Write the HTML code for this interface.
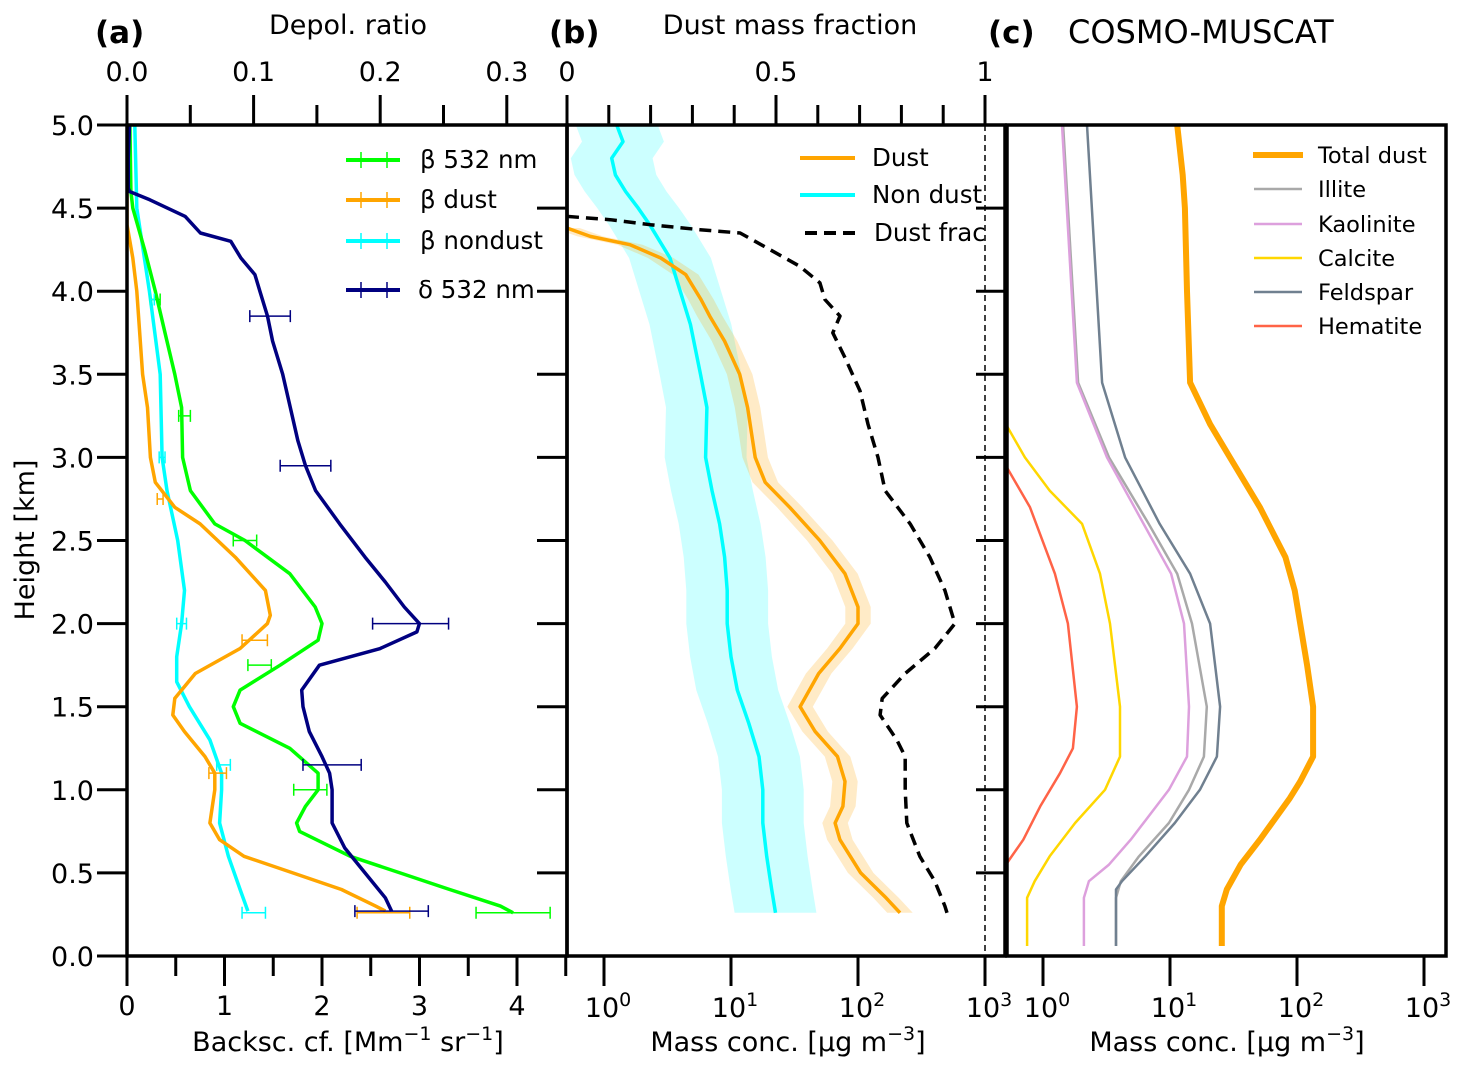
<!DOCTYPE html>
<html><head><meta charset="utf-8"><style>
html,body{margin:0;padding:0;background:#fff;}
svg{display:block;font-family:"DejaVu Sans","Liberation Sans",sans-serif;}
</style></head><body>
<svg id="fig" width="1462" height="1071" viewBox="0 0 1462 1071" xmlns="http://www.w3.org/2000/svg">
<defs>
<clipPath id="clipA"><rect x="127" y="125" width="440" height="831"/></clipPath>
<clipPath id="clipB"><rect x="567" y="125" width="439" height="831"/></clipPath>
<clipPath id="clipBleg"><rect x="567" y="125" width="420" height="831"/></clipPath>
<clipPath id="clipC"><rect x="1006" y="125" width="440" height="831"/></clipPath>
</defs>
<g id="root"></g>
</svg>
<script>
// ---------- Panel (a) data ----------
const greenH = [5.0,4.6,4.5,4.25,4.0,3.75,3.5,3.3,3.0,2.8,2.6,2.5,2.3,2.1,2.0,1.9,1.75,1.6,1.5,1.4,1.25,1.1,1.0,0.9,0.8,0.75,0.6,0.5,0.4,0.3,0.26];
const greenV = [0.03,0.04,0.06,0.18,0.29,0.39,0.49,0.56,0.57,0.65,0.90,1.21,1.67,1.93,2.0,1.96,1.57,1.16,1.09,1.16,1.67,1.96,1.96,1.83,1.74,1.77,2.29,2.8,3.31,3.83,3.96];
const dustH = [5.0,4.4,4.3,4.2,4.0,3.5,3.3,3.0,2.85,2.7,2.6,2.4,2.2,2.05,2.0,1.85,1.7,1.55,1.45,1.35,1.2,1.1,1.0,0.8,0.7,0.6,0.5,0.4,0.3,0.27];
const dustV = [0.0,0.0,0.03,0.06,0.10,0.16,0.21,0.24,0.29,0.49,0.75,1.11,1.42,1.47,1.44,1.16,0.70,0.49,0.47,0.59,0.80,0.90,0.90,0.85,0.95,1.2,1.7,2.2,2.55,2.65];
const ndH = [5.0,4.5,4.0,3.5,3.0,2.8,2.5,2.2,2.0,1.8,1.65,1.5,1.3,1.1,1.0,0.8,0.6,0.4,0.27];
const ndV = [0.08,0.10,0.23,0.34,0.36,0.41,0.52,0.59,0.56,0.51,0.51,0.64,0.85,0.97,0.97,0.95,1.04,1.16,1.24];
const depH = [5.0,4.8,4.62,4.6,4.55,4.45,4.35,4.3,4.2,4.1,4.0,3.85,3.7,3.5,3.3,3.1,2.95,2.8,2.6,2.4,2.25,2.1,2.0,1.95,1.85,1.75,1.6,1.5,1.35,1.2,1.1,1.0,0.8,0.65,0.5,0.35,0.27];
const depV = [0.002,0.001,0.001,0.002,0.018,0.046,0.058,0.082,0.09,0.101,0.105,0.111,0.115,0.123,0.129,0.135,0.141,0.149,0.168,0.188,0.204,0.219,0.231,0.229,0.2,0.152,0.138,0.139,0.144,0.154,0.160,0.162,0.162,0.172,0.188,0.204,0.209];
// error bars: height, centre, half-width
const greenErrH = [3.95,3.25,2.5,1.75,1.0,0.26];
const greenErrC = [0.29,0.59,1.21,1.36,1.88,3.96];
const greenErrW = [0.05,0.06,0.12,0.12,0.17,0.38];
const dustErrH = [2.75,1.9,1.1,0.26];
const dustErrC = [0.34,1.31,0.93,2.63];
const dustErrW = [0.03,0.13,0.09,0.27];
const ndErrH = [3.95,3.0,2.0,1.15,0.26];
const ndErrC = [0.26,0.36,0.56,0.99,1.3];
const ndErrW = [0.02,0.03,0.05,0.07,0.12];
const depErrH = [3.85,2.95,2.0,1.15,0.27];
const depErrC = [0.113,0.141,0.224,0.162,0.209];
const depErrW = [0.016,0.02,0.03,0.023,0.029];

// ---------- Panel (b) data ----------
const bDustH = [4.38,4.33,4.28,4.2,4.1,3.95,3.85,3.7,3.5,3.3,3.0,2.85,2.7,2.5,2.3,2.1,2.0,1.85,1.7,1.5,1.35,1.2,1.05,0.9,0.8,0.7,0.5,0.35,0.26];
const bDustV = [0.51,0.78,1.6,2.8,4.4,5.8,6.8,8.9,11.7,13.5,15.5,18.6,29,50,79,100,100,72,49,35,46,69,79,76,66,72,105,166,214];
const bDustUnc = 1.26;
const bNdH = [5.0,4.9,4.8,4.7,4.6,4.5,4.4,4.3,4.2,4.0,3.8,3.5,3.3,3.0,2.8,2.6,2.4,2.2,2.0,1.8,1.6,1.4,1.2,1.0,0.8,0.6,0.4,0.26];
const bNdV = [1.26,1.41,1.15,1.23,1.48,1.86,2.29,2.75,3.31,3.98,4.79,5.75,6.46,6.31,7.08,8.13,8.91,9.33,9.33,10,11.2,13.8,16.6,17.8,17.8,19.1,20.9,22.4];
const bNdUnc = 2.1;
const fracH = [4.45,4.43,4.4,4.37,4.35,4.3,4.25,4.15,4.05,3.95,3.85,3.75,3.6,3.4,3.2,3.0,2.8,2.6,2.4,2.2,2.0,1.85,1.7,1.55,1.45,1.3,1.2,1.0,0.8,0.6,0.45,0.3,0.26];
const fracV = [0.0,0.103,0.199,0.318,0.414,0.450,0.486,0.557,0.605,0.617,0.653,0.636,0.665,0.701,0.720,0.744,0.761,0.821,0.868,0.904,0.928,0.880,0.809,0.754,0.749,0.789,0.809,0.809,0.813,0.844,0.880,0.904,0.909];

// ---------- Panel (c) data ----------
const totH = [5.0,4.7,4.5,4.0,3.45,3.2,3.0,2.7,2.4,2.2,2.0,1.75,1.5,1.2,1.05,0.95,0.7,0.55,0.4,0.3,0.06];
const totV = [11.4,12.6,13.1,13.6,14.4,20.7,29.6,51,81,96,106,120,134,134,106,88,51,36,28,25.6,25.6];
const illH = [5,3.45,3,2.6,2.3,2,1.5,1.2,1,0.8,0.6,0.45,0.35,0.06];
const illV = [1.44,1.89,3.31,6.8,11.4,14.9,19.5,18.5,14.1,9.8,5.7,4.1,3.76,3.76];
const kaoH = [5,3.45,3,2.6,2.3,2,1.5,1.2,1,0.7,0.55,0.45,0.35,0.06];
const kaoV = [1.41,1.85,3.19,6.2,10.2,12.9,14.1,13.6,9.8,4.9,3.31,2.30,2.10,2.10];
const felH = [5,3.45,3,2.6,2.3,2,1.5,1.2,1,0.8,0.6,0.45,0.4,0.06];
const felV = [2.22,2.92,4.43,8.3,14.4,20.7,24.8,23.4,17.2,10.9,6.4,4.19,3.76,3.76];
const calH = [3.3,3.2,3,2.8,2.6,2.3,2,1.5,1.2,1,0.8,0.6,0.45,0.35,0.06];
const calV = [0.4,0.51,0.72,1.13,2.03,2.81,3.37,4.04,4.04,3.08,1.79,1.13,0.86,0.75,0.75];
const hemH = [3.05,2.95,2.7,2.3,2,1.5,1.25,1.1,0.9,0.7,0.55,0.45];
const hemV = [0.38,0.51,0.79,1.24,1.57,1.85,1.72,1.36,0.95,0.70,0.51,0.38];

// tick labels
const yTicks = [0,0.5,1,1.5,2,2.5,3,3.5,4,4.5,5];
const aBotTicks = [0,1,2,3,4];
const aTopTicks = [0,0.1,0.2,0.3];
const logTicks = [0,1,2,3];
const bTopTicks = [0,0.5,1];

// ---------- scales ----------
const Y = h => 956 - h*166.2;
const XA = v => 127 + v*97.5;
const XD = v => 127 + v*1266;
const XB = c => 604 + Math.log10(c)*127;
const XF = f => 567 + f*418;
const XC = c => 1043 + Math.log10(c)*127;

const FS = 27;
const NS = "http://www.w3.org/2000/svg";
const root = document.getElementById('root');
function mk(tag, attrs, parent){
  const e = document.createElementNS(NS, tag);
  for (const k in attrs) e.setAttribute(k, attrs[k]);
  (parent||root).appendChild(e);
  return e;
}
function pathD(hs, vs, xf){ return hs.map((h,i)=>(i?'L':'M')+xf(vs[i]).toFixed(1)+','+Y(h).toFixed(1)).join(''); }
function line(g, hs, vs, xf, color, w, name, dash){
  const p = mk('path', {d:pathD(hs,vs,xf), fill:'none', stroke:color, 'stroke-width':w, 'stroke-linejoin':'round', 'stroke-linecap':'butt'}, g);
  if (dash) p.setAttribute('stroke-dasharray', dash);
  
  
  return p;
}
function band(g, hs, vs, xf, f, color, op, name){
  let d = hs.map((h,i)=>(i?'L':'M')+xf(vs[i]/f).toFixed(1)+','+Y(h).toFixed(1)).join('');
  for (let i=hs.length-1;i>=0;i--) d += 'L'+xf(vs[i]*f).toFixed(1)+','+Y(hs[i]).toFixed(1);
  const p = mk('path', {d:d+'Z', fill:color, 'fill-opacity':op, stroke:'none'}, g);
  
  
}
function errs(g, hs, cs, ws, xf, color, name){
  hs.forEach((h,i)=>{
    const y=Y(h), x1=xf(cs[i]-ws[i]), x2=xf(cs[i]+ws[i]);
    const e = mk('path', {d:`M${x1},${y}H${x2}M${x1},${y-6}V${y+6}M${x2},${y-6}V${y+6}`, stroke:color, 'stroke-width':1.5, fill:'none'}, g);
    
    
  });
}
function txt(x,y,s,opts,parent){
  const t = mk('text', Object.assign({x:x,y:y,'font-size':FS,fill:'#000'},opts||{}), parent);
  t.textContent = s;
  return t;
}
function sup(x,y,base,exp,name,parent){
  const t = mk('text',{x:x,y:y,'font-size':FS,'text-anchor':'middle'},parent);
  
  
  const a = mk('tspan',{},t); a.textContent = base;
  const b = mk('tspan',{dy:-11,'font-size':19},t); b.textContent = exp;
  return t;
}
function tick(x1,y1,x2,y2,w,name){
  const l = mk('line',{x1:x1,y1:y1,x2:x2,y2:y2,stroke:'#000','stroke-width':w});
  
  
}

// ---------- Panel (a) ----------
const gA = mk('g',{'clip-path':'url(#clipA)'});


line(gA, ndH, ndV, XA, '#00ffff', 3.5, 'beta-nondust-line');
line(gA, dustH, dustV, XA, '#ffa500', 3.5, 'beta-dust-line');
line(gA, greenH, greenV, XA, '#00ff00', 3.5, 'beta-532-line');
line(gA, depH, depV, XD, '#000080', 3.5, 'depol-532-line');
errs(gA, greenErrH, greenErrC, greenErrW, XA, '#00ff00', 'beta-532-errorbar');
errs(gA, dustErrH, dustErrC, dustErrW, XA, '#ffa500', 'beta-dust-errorbar');
errs(gA, ndErrH, ndErrC, ndErrW, XA, '#00ffff', 'beta-nondust-errorbar');
errs(gA, depErrH, depErrC, depErrW, XD, '#000080', 'depol-errorbar');

// ---------- Panel (b) ----------
const gB = mk('g',{'clip-path':'url(#clipB)'});


band(gB, bNdH, bNdV, XB, bNdUnc, '#00ffff', 0.2, 'nondust-uncertainty-band');
band(gB, bDustH, bDustV, XB, bDustUnc, '#ffa500', 0.22, 'dust-uncertainty-band');
line(gB, bNdH, bNdV, XB, '#00ffff', 3.5, 'nondust-mass-line');
line(gB, bDustH, bDustV, XB, '#ffa500', 3.5, 'dust-mass-line');
line(gB, fracH, fracV, XF, '#000', 3.5, 'dust-fraction-line', '12,7');
const vl = mk('line',{x1:XF(1),y1:125,x2:XF(1),y2:956,stroke:'#000','stroke-width':1.5,'stroke-dasharray':'6,4'},gB);



// ---------- Panel (c) ----------
const gC = mk('g',{'clip-path':'url(#clipC)'});


line(gC, hemH, hemV, XC, '#ff6347', 2.5, 'hematite-line');
line(gC, calH, calV, XC, '#ffd700', 2.5, 'calcite-line');
line(gC, illH, illV, XC, '#a9a9a9', 2.5, 'illite-line');
line(gC, kaoH, kaoV, XC, '#dda0dd', 2.5, 'kaolinite-line');
line(gC, felH, felV, XC, '#708090', 2.5, 'feldspar-line');
line(gC, totH, totV, XC, '#ffa500', 6, 'total-dust-line');

// ---------- axes frames ----------
[[127,567,'panel-a-frame'],[567,1005,'panel-b-frame'],[1007,1446,'panel-c-frame']].forEach(a=>{
  const r = mk('rect',{x:a[0],y:125,width:a[1]-a[0],height:831,fill:'none',stroke:'#000','stroke-width':3.5});
  
  
});

// y ticks (left of each panel, outward)
yTicks.forEach(h=>{
  tick(97,Y(h),127,Y(h),3,'y-tick-a');
  tick(537,Y(h),567,Y(h),3,'y-tick-b');
  tick(976,Y(h),1006,Y(h),3,'y-tick-c');
  const t = txt(94,Y(h)+10,h.toFixed(1),{'text-anchor':'end'});
  
  
});
// panel a bottom
for (let v=0; v<=4.5; v+=0.5){
  const major = Math.abs(v-Math.round(v))<1e-6;
  tick(XA(v),956,XA(v),major?986:976,3,'x-tick-a');
}
aBotTicks.forEach(v=>{
  const t = txt(XA(v),1015,String(v),{'text-anchor':'middle'});
  
  
});
// panel a top
for (let i=0;i<=6;i++){
  const v=i*0.05;
  tick(XD(v),125,XD(v),i%2?105:95,3,'top-tick-a');
}
aTopTicks.forEach(v=>{
  const t = txt(XD(v),81,v.toFixed(1),{'text-anchor':'middle'});
  
  
});
// panel b/c bottom & b top
logTicks.forEach(p=>{
  tick(XB(Math.pow(10,p)),956,XB(Math.pow(10,p)),986,3,'x-tick-b');
  sup(XB(Math.pow(10,p))+4,1017,'10',String(p),'x-tick-label-b');
  tick(XC(Math.pow(10,p)),956,XC(Math.pow(10,p)),986,3,'x-tick-c');
  sup(XC(Math.pow(10,p))+4,1017,'10',String(p),'x-tick-label-c');
});
for (let i=0;i<=10;i++){
  const f=i/10;
  tick(XF(f),125,XF(f),(i%5)?105:95,3,'top-tick-b');
}
bTopTicks.forEach(v=>{
  const t = txt(XF(v),81,String(v),{'text-anchor':'middle'});
  
  
});

// axis titles
let t;
t = txt(348,34,'Depol. ratio',{'text-anchor':'middle'});  
t = txt(790,34,'Dust mass fraction',{'text-anchor':'middle'});  
t = txt(95,43,'(a)',{'font-weight':'bold','font-size':31});  
t = txt(549,43,'(b)',{'font-weight':'bold','font-size':31});  
t = txt(988,43,'(c)',{'font-weight':'bold','font-size':31});  
t = txt(1068,43,'COSMO-MUSCAT',{'font-size':32});  
t = txt(34,540,'Height [km]',{'text-anchor':'middle',transform:'rotate(-90 34 540)'});  

function xtitle(x,name){
  const tt = mk('text',{x:x,y:1051,'font-size':FS,'text-anchor':'middle'});
  
  
  return tt;
}
t = xtitle(348,'x-axis-title-a');
[['Backsc. cf. [Mm',0],['−1',-11],[' sr',11],['−1',-11],[']',11]].forEach(p=>{const s=mk('tspan',{dy:p[1]},t); if(p[1]<0)s.setAttribute('font-size',19); s.textContent=p[0];});
[[788,'x-axis-title-b'],[1227,'x-axis-title-c']].forEach(q=>{
  const tt = xtitle(q[0],q[1]);
  [['Mass conc. [µg m',0],['−3',-11],[']',11]].forEach(p=>{const s=mk('tspan',{dy:p[1]},tt); if(p[1]<0)s.setAttribute('font-size',19); s.textContent=p[0];});
});

// ---------- legends ----------
function legEntry(x1,x2,y,color,w,label,tx,fs,name,dash,err,parent){
  const g = mk('g',{},parent);
  
  
  const l = mk('line',{x1:x1,y1:y,x2:x2,y2:y,stroke:color,'stroke-width':w},g);
  if (dash) l.setAttribute('stroke-dasharray',dash);
  if (err){
    mk('line',{x1:x1+15,y1:y-8,x2:x1+15,y2:y+8,stroke:color,'stroke-width':1.5},g);
    mk('line',{x1:x2-13,y1:y-8,x2:x2-13,y2:y+8,stroke:color,'stroke-width':1.5},g);
  }
  txt(tx,y+8,label,{'font-size':fs},g);
}
legEntry(346,400,160,'#00ff00',4,'β 532 nm',420,24.5,'legend-beta-532',null,true);
legEntry(346,400,200,'#ffa500',4,'β dust',420,24.5,'legend-beta-dust',null,true);
legEntry(346,400,241,'#00ffff',4,'β nondust',420,24.5,'legend-beta-nondust',null,true);
legEntry(346,400,290,'#000080',4,'δ 532 nm',418,24.5,'legend-depol-532',null,true);
const gBL = mk('g',{'clip-path':'url(#clipBleg)'});


legEntry(800,855,158,'#ffa500',4,'Dust',872,24.5,'legend-dust',null,false,gBL);
legEntry(800,855,195,'#00ffff',4,'Non dust',872,24.5,'legend-non-dust',null,false,gBL);
legEntry(805,855,233,'#000',4,'Dust frac',874,24.5,'legend-dust-fraction','12,7',false,gBL);
legEntry(1253,1303,155,'#ffa500',6,'Total dust',1318,22.5,'legend-total-dust');
legEntry(1254,1302,189,'#a9a9a9',2.5,'Illite',1318,22.5,'legend-illite');
legEntry(1254,1302,224,'#dda0dd',2.5,'Kaolinite',1318,22.5,'legend-kaolinite');
legEntry(1254,1302,258,'#ffd700',2.5,'Calcite',1318,22.5,'legend-calcite');
legEntry(1254,1302,292,'#708090',2.5,'Feldspar',1318,22.5,'legend-feldspar');
legEntry(1254,1302,326,'#ff6347',2.5,'Hematite',1318,22.5,'legend-hematite');
</script>
</body></html>
